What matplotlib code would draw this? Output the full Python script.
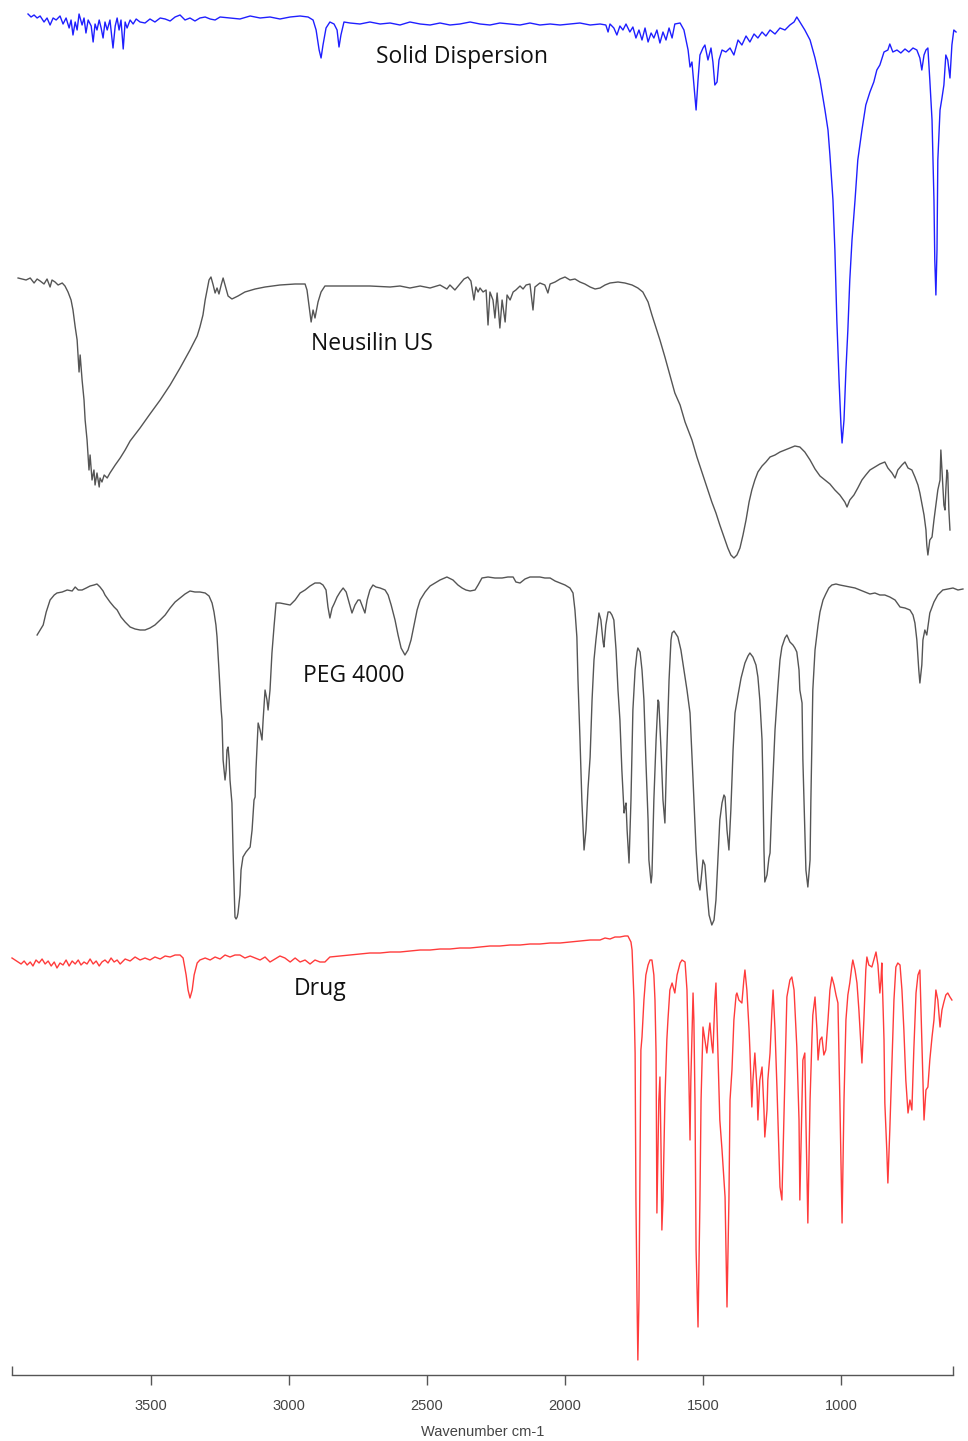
import numpy as np
import matplotlib
matplotlib.use('Agg')
import matplotlib.pyplot as plt

# FTIR spectra, wavenumber (cm-1) and stacked transmittance depth (a.u., larger = lower)
sd_wn = [3946, 3935, 3924, 3913, 3902, 3888, 3877, 3866, 3855, 3844, 3830, 3819, 3808, 3797, 3790,
         3783, 3775, 3768, 3761, 3750, 3743, 3736, 3728, 3717, 3710, 3703, 3696, 3688, 3681, 3674,
         3667, 3659, 3649, 3638, 3630, 3623, 3616, 3609, 3601, 3594, 3587, 3576, 3565, 3554, 3540,
         3522, 3504, 3486, 3467, 3449, 3431, 3413, 3395, 3377, 3359, 3341, 3323, 3304, 3286, 3268,
         3250, 3214, 3178, 3141, 3105, 3069, 3033, 2996, 2960, 2931, 2913, 2902, 2891, 2884, 2877,
         2866, 2852, 2837, 2826, 2819, 2812, 2801, 2779, 2743, 2707, 2670, 2634, 2598, 2562, 2525,
         2489, 2453, 2417, 2381, 2344, 2308, 2272, 2236, 2199, 2163, 2127, 2091, 2054, 2018, 1982,
         1946, 1909, 1873, 1852, 1844, 1837, 1823, 1812, 1801, 1790, 1779, 1765, 1754, 1743, 1732,
         1721, 1710, 1699, 1688, 1678, 1667, 1656, 1645, 1634, 1623, 1612, 1602, 1583, 1569, 1554,
         1547, 1540, 1533, 1525, 1518, 1511, 1500, 1493, 1482, 1471, 1464, 1457, 1449, 1442, 1431,
         1417, 1402, 1388, 1373, 1359, 1344, 1330, 1315, 1301, 1286, 1272, 1257, 1239, 1221, 1203,
         1185, 1170, 1160, 1149, 1131, 1112, 1094, 1076, 1058, 1047, 1040, 1029, 1022, 1015, 1007,
         1000, 996, 989, 982, 975, 968, 960, 949, 939, 924, 910, 895, 881, 870, 859,
         844, 830, 823, 812, 797, 783, 768, 754, 739, 725, 714, 707, 699, 692, 685,
         678, 670, 663, 660, 656, 652, 649, 641, 634, 627, 620, 613, 605, 598, 591,
         583]
sd_t = [14, 17, 15, 18, 16, 22, 18, 25, 18, 20, 16, 24, 18, 28, 20,
        35, 22, 30, 14, 25, 18, 33, 20, 26, 42, 24, 30, 20, 28, 38,
        22, 30, 20, 48, 26, 18, 30, 20, 49, 22, 28, 20, 24, 19, 22,
        23, 19, 22, 18, 19, 21, 17, 15, 20, 18, 21, 18, 17, 19, 20,
        17, 18, 19, 16, 18, 17, 19, 17, 16, 17, 20, 30, 50, 58, 45,
        28, 22, 24, 30, 47, 35, 22, 23, 24, 22, 24, 23, 25, 22, 24,
        25, 23, 25, 24, 22, 24, 25, 23, 24, 25, 23, 25, 24, 25, 24,
        23, 25, 24, 25, 32, 24, 28, 35, 26, 30, 24, 32, 27, 38, 30,
        40, 28, 42, 33, 38, 30, 43, 32, 40, 28, 38, 24, 23, 30, 50,
        67, 62, 85, 110, 80, 55, 48, 45, 60, 48, 62, 85, 82, 60, 50,
        52, 48, 55, 40, 45, 36, 42, 34, 38, 32, 36, 30, 34, 28, 30,
        25, 22, 17, 22, 30, 40, 58, 80, 110, 130, 155, 200, 250, 320, 380,
        425, 443, 420, 370, 330, 280, 240, 200, 160, 130, 105, 92, 82, 70, 65,
        52, 50, 44, 52, 50, 53, 49, 52, 48, 50, 58, 70, 55, 50, 48,
        80, 120, 200, 260, 295, 250, 160, 110, 98, 85, 55, 60, 78, 45, 30,
        32]

neu_wn = [3982, 3967, 3953, 3938, 3924, 3913, 3902, 3888, 3877, 3866, 3859, 3848, 3837, 3822, 3812,
          3801, 3790, 3783, 3775, 3768, 3761, 3757, 3750, 3743, 3739, 3732, 3725, 3721, 3714, 3707,
          3703, 3696, 3688, 3685, 3678, 3670, 3659, 3649, 3630, 3612, 3594, 3576, 3540, 3504, 3467,
          3431, 3395, 3359, 3333, 3323, 3312, 3304, 3297, 3290, 3283, 3275, 3268, 3261, 3254, 3246,
          3239, 3232, 3221, 3207, 3185, 3160, 3123, 3087, 3033, 2978, 2942, 2935, 2928, 2920, 2913,
          2906, 2895, 2884, 2870, 2833, 2779, 2707, 2634, 2598, 2562, 2525, 2489, 2453, 2428, 2417,
          2399, 2381, 2366, 2352, 2341, 2330, 2323, 2315, 2308, 2297, 2286, 2279, 2272, 2261, 2254,
          2246, 2236, 2228, 2217, 2210, 2199, 2188, 2178, 2163, 2152, 2141, 2127, 2116, 2109, 2091,
          2073, 2062, 2054, 2036, 2018, 2000, 1982, 1964, 1946, 1928, 1909, 1891, 1873, 1855, 1837,
          1808, 1783, 1757, 1736, 1718, 1699, 1685, 1670, 1656, 1638, 1620, 1602, 1583, 1565, 1554,
          1540, 1522, 1504, 1482, 1468, 1453, 1439, 1424, 1410, 1399, 1388, 1377, 1366, 1355, 1344,
          1333, 1323, 1312, 1301, 1286, 1272, 1257, 1239, 1221, 1203, 1185, 1167, 1149, 1131, 1112,
          1094, 1076, 1058, 1040, 1022, 1004, 986, 978, 968, 953, 939, 924, 910, 895, 877,
          859, 841, 830, 815, 804, 794, 779, 768, 757, 743, 732, 721, 714, 707, 699,
          692, 689, 685, 678, 670, 663, 656, 649, 641, 638, 634, 627, 623, 620, 616,
          613, 609, 605]
neu_t = [278, 279, 280, 278, 283, 279, 281, 284, 279, 287, 280, 282, 285, 283, 286,
         292, 300, 310, 327, 340, 372, 355, 380, 400, 420, 440, 470, 455, 480, 470,
         485, 473, 487, 478, 482, 475, 478, 473, 465, 458, 450, 441, 428, 414, 400,
         385, 368, 350, 336, 327, 315, 300, 290, 280, 277, 285, 293, 288, 294, 285,
         278, 285, 296, 299, 296, 292, 289, 287, 285, 284, 284, 290, 305, 322, 310,
         318, 302, 292, 286, 286, 286, 286, 287, 286, 288, 286, 288, 285, 289, 285,
         290, 284, 279, 277, 281, 300, 287, 292, 288, 292, 290, 325, 292, 300, 318,
         293, 328, 300, 322, 295, 300, 292, 290, 286, 289, 285, 284, 310, 287, 283,
         285, 293, 284, 282, 279, 277, 280, 279, 282, 284, 287, 289, 288, 285, 283,
         282, 283, 285, 288, 292, 302, 315, 328, 340, 357, 375, 393, 405, 422, 430,
         440, 457, 472, 490, 502, 513, 525, 537, 548, 555, 558, 555, 548, 535, 520,
         502, 490, 480, 472, 466, 462, 457, 455, 452, 450, 448, 446, 447, 452, 460,
         469, 476, 480, 484, 490, 495, 502, 507, 500, 495, 488, 480, 475, 470, 467,
         464, 462, 468, 473, 478, 470, 465, 462, 468, 470, 477, 485, 493, 503, 515,
         530, 545, 555, 540, 537, 520, 505, 490, 480, 450, 470, 505, 510, 490, 470,
         473, 510, 530]

peg_wn = [3913, 3902, 3891, 3880, 3866, 3851, 3841, 3822, 3804, 3786, 3775, 3764, 3750, 3735, 3721,
          3707, 3696, 3685, 3674, 3667, 3649, 3634, 3623, 3609, 3594, 3576, 3558, 3540, 3522, 3504,
          3486, 3467, 3449, 3431, 3413, 3395, 3377, 3359, 3341, 3323, 3304, 3290, 3279, 3272, 3265,
          3261, 3254, 3246, 3243, 3239, 3232, 3228, 3225, 3221, 3217, 3214, 3207, 3203, 3199, 3196,
          3192, 3188, 3185, 3178, 3174, 3167, 3156, 3141, 3134, 3127, 3123, 3120, 3112, 3105, 3098,
          3094, 3087, 3080, 3076, 3069, 3062, 3054, 3047, 3033, 3015, 2996, 2978, 2960, 2942, 2924,
          2906, 2888, 2877, 2866, 2859, 2852, 2844, 2837, 2826, 2815, 2804, 2793, 2783, 2772, 2761,
          2750, 2743, 2736, 2725, 2717, 2707, 2696, 2685, 2670, 2652, 2641, 2630, 2616, 2605, 2594,
          2580, 2569, 2558, 2547, 2536, 2525, 2507, 2489, 2471, 2453, 2428, 2406, 2388, 2373, 2359,
          2344, 2326, 2315, 2301, 2279, 2254, 2228, 2207, 2188, 2178, 2163, 2145, 2127, 2109, 2091,
          2073, 2054, 2036, 2018, 2000, 1982, 1971, 1964, 1957, 1953, 1946, 1939, 1931, 1924, 1917,
          1909, 1902, 1895, 1888, 1877, 1870, 1862, 1859, 1852, 1844, 1837, 1830, 1823, 1815, 1808,
          1801, 1794, 1786, 1783, 1779, 1775, 1768, 1761, 1754, 1746, 1739, 1736, 1728, 1721, 1714,
          1707, 1699, 1696, 1688, 1685, 1678, 1670, 1663, 1660, 1652, 1645, 1638, 1631, 1623, 1616,
          1612, 1605, 1598, 1591, 1580, 1569, 1558, 1547, 1536, 1525, 1518, 1511, 1507, 1500, 1493,
          1486, 1478, 1468, 1460, 1453, 1446, 1439, 1431, 1424, 1420, 1413, 1406, 1399, 1391, 1384,
          1373, 1362, 1348, 1337, 1330, 1319, 1308, 1301, 1294, 1286, 1283, 1279, 1276, 1268, 1261,
          1257, 1250, 1239, 1228, 1221, 1214, 1203, 1196, 1185, 1174, 1167, 1160, 1152, 1149, 1141,
          1138, 1131, 1127, 1120, 1112, 1109, 1105, 1102, 1094, 1083, 1076, 1065, 1055, 1044, 1033,
          1018, 1004, 986, 968, 949, 931, 913, 895, 877, 859, 841, 823, 804, 786, 768,
          750, 739, 732, 725, 718, 714, 707, 703, 696, 689, 678, 663, 649, 631, 613,
          594, 576, 558]
peg_t = [635, 630, 625, 612, 600, 595, 593, 592, 590, 591, 587, 590, 590, 588, 586,
         585, 584, 587, 591, 595, 602, 607, 610, 617, 622, 627, 629, 630, 630, 628,
         625, 620, 615, 608, 602, 598, 594, 591, 592, 592, 593, 596, 603, 612, 625,
         637, 670, 710, 720, 760, 780, 770, 750, 747, 760, 780, 803, 850, 890, 917,
         919, 917, 913, 895, 870, 857, 852, 847, 830, 800, 797, 770, 723, 730, 740,
         720, 690, 700, 710, 690, 653, 625, 603, 603, 604, 605, 600, 593, 590, 586,
         583, 583, 585, 590, 607, 618, 608, 604, 597, 592, 588, 592, 602, 613, 605,
         600, 600, 605, 613, 600, 590, 585, 587, 588, 590, 595, 605, 620, 635, 648,
         655, 650, 640, 625, 610, 600, 592, 586, 583, 580, 577, 580, 585, 588, 590,
         591, 590, 585, 578, 577, 578, 578, 577, 577, 582, 583, 579, 577, 577, 577,
         578, 578, 581, 583, 585, 588, 593, 610, 637, 680, 737, 800, 850, 830, 790,
         757, 700, 660, 640, 613, 620, 642, 647, 625, 612, 612, 615, 620, 650, 690,
         720, 770, 813, 808, 803, 830, 863, 800, 710, 670, 652, 648, 652, 670, 700,
         760, 820, 860, 883, 875, 800, 740, 700, 702, 750, 800, 823, 750, 680, 640,
         633, 631, 634, 637, 650, 670, 690, 713, 780, 850, 880, 890, 880, 860, 865,
         890, 915, 925, 920, 900, 860, 820, 803, 795, 797, 830, 850, 810, 750, 713,
         695, 678, 663, 656, 653, 657, 665, 677, 700, 740, 780, 850, 882, 875, 858,
         853, 800, 730, 685, 660, 647, 638, 635, 642, 645, 648, 652, 670, 690, 703,
         760, 830, 870, 887, 860, 800, 740, 690, 650, 625, 612, 600, 594, 588, 585,
         584, 585, 586, 587, 588, 590, 592, 594, 593, 595, 595, 597, 600, 607, 608,
         610, 615, 623, 640, 670, 683, 665, 640, 630, 635, 613, 602, 595, 590, 589,
         588, 590, 589]

drug_wn = [4004, 3993, 3982, 3971, 3960, 3949, 3938, 3928, 3917, 3906, 3895, 3884, 3873, 3862, 3851,
           3841, 3830, 3819, 3808, 3797, 3786, 3775, 3764, 3754, 3743, 3732, 3721, 3710, 3699, 3688,
           3678, 3667, 3656, 3645, 3634, 3623, 3612, 3594, 3576, 3558, 3540, 3522, 3504, 3486, 3467,
           3449, 3431, 3413, 3395, 3384, 3373, 3366, 3359, 3351, 3344, 3333, 3323, 3304, 3286, 3268,
           3250, 3232, 3214, 3196, 3178, 3160, 3141, 3123, 3105, 3087, 3069, 3051, 3033, 3015, 2996,
           2978, 2960, 2942, 2924, 2906, 2888, 2870, 2852, 2815, 2779, 2743, 2707, 2670, 2634, 2598,
           2562, 2525, 2489, 2453, 2417, 2381, 2344, 2308, 2272, 2236, 2199, 2163, 2127, 2091, 2054,
           2018, 1982, 1946, 1909, 1873, 1855, 1837, 1819, 1801, 1783, 1772, 1761, 1757, 1750, 1746,
           1743, 1739, 1736, 1732, 1728, 1725, 1721, 1714, 1707, 1699, 1692, 1685, 1678, 1674, 1670,
           1667, 1663, 1660, 1656, 1652, 1649, 1645, 1638, 1631, 1627, 1620, 1612, 1605, 1602, 1594,
           1583, 1576, 1565, 1558, 1551, 1547, 1544, 1536, 1533, 1529, 1525, 1518, 1511, 1507, 1500,
           1493, 1486, 1478, 1475, 1468, 1464, 1457, 1453, 1446, 1439, 1431, 1424, 1420, 1413, 1406,
           1402, 1395, 1388, 1380, 1377, 1370, 1359, 1352, 1348, 1341, 1333, 1330, 1323, 1319, 1312,
           1304, 1301, 1294, 1286, 1279, 1276, 1268, 1265, 1257, 1250, 1246, 1239, 1232, 1225, 1221,
           1214, 1207, 1199, 1196, 1185, 1178, 1170, 1163, 1160, 1152, 1149, 1141, 1138, 1131, 1127,
           1120, 1112, 1105, 1102, 1094, 1087, 1083, 1076, 1069, 1062, 1055, 1047, 1040, 1033, 1025,
           1018, 1011, 1004, 996, 989, 982, 975, 968, 960, 957, 949, 942, 935, 924, 917,
           910, 906, 899, 888, 881, 873, 866, 859, 855, 852, 844, 841, 834, 830, 823,
           815, 808, 801, 794, 786, 779, 772, 765, 757, 750, 743, 736, 728, 721, 714,
           707, 699, 692, 685, 678, 670, 663, 656, 649, 641, 634, 627, 620, 613, 605,
           598]
drug_t = [958, 960, 962, 964, 961, 965, 962, 966, 960, 963, 959, 964, 961, 966, 962,
          968, 963, 965, 960, 966, 961, 964, 960, 965, 962, 964, 959, 964, 961, 966,
          962, 960, 963, 958, 962, 960, 964, 959, 961, 957, 960, 958, 960, 957, 959,
          956, 957, 955, 955, 958, 975, 990, 998, 990, 975, 963, 960, 958, 960, 957,
          959, 955, 957, 955, 955, 958, 956, 958, 960, 957, 962, 959, 956, 958, 962,
          958, 962, 960, 964, 960, 962, 962, 957, 956, 955, 954, 953, 953, 952, 952,
          951, 950, 950, 949, 949, 948, 948, 947, 946, 946, 945, 945, 944, 944, 943,
          943, 942, 941, 940, 940, 938, 939, 937, 937, 936, 936, 942, 950, 1000, 1053,
          1200, 1300, 1360, 1300, 1150, 1050, 1037, 1000, 975, 965, 960, 960, 975, 1000, 1053,
          1213, 1150, 1100, 1077, 1150, 1230, 1200, 1100, 1040, 1020, 990, 983, 990, 993, 975,
          963, 960, 962, 990, 1080, 1140, 1080, 993, 1020, 1100, 1250, 1327, 1200, 1100, 1027,
          1040, 1053, 1030, 1023, 1045, 1053, 1000, 983, 1050, 1120, 1150, 1180, 1197, 1307, 1200,
          1100, 1070, 1020, 995, 993, 1000, 1003, 980, 970, 990, 1030, 1050, 1107, 1080, 1053,
          1090, 1120, 1080, 1067, 1110, 1137, 1110, 1080, 1053, 1010, 990, 1030, 1087, 1150, 1187,
          1200, 1120, 1030, 997, 980, 977, 990, 1030, 1047, 1120, 1200, 1100, 1060, 1053, 1120,
          1223, 1100, 1037, 1015, 997, 1030, 1060, 1040, 1037, 1055, 1050, 1020, 990, 977, 985,
          995, 1003, 1100, 1223, 1100, 1020, 995, 983, 965, 960, 970, 983, 1010, 1063, 1020,
          970, 957, 965, 967, 960, 952, 965, 993, 980, 963, 1040, 1103, 1150, 1183, 1130,
          1060, 1000, 967, 963, 965, 990, 1030, 1080, 1113, 1100, 1110, 1050, 993, 975, 970,
          1040, 1120, 1090, 1087, 1060, 1037, 1020, 990, 1000, 1027, 1010, 1002, 995, 993, 997,
          1000]

names = ['Solid Dispersion', 'Neusilin US', 'PEG 4000', 'Drug']
colors = ['#1f1fff', '#555555', '#555555', '#ff3b3b']
label_pos = [(2373, 57), (2699, 344), (2765, 676), (2888, 989)]
xticks = [3500, 3000, 2500, 2000, 1500, 1000]

W, H = 968, 1441
fig = plt.figure(figsize=(W / 100, H / 100), dpi=100)
ax = fig.add_axes([12 / W, (H - 1375) / H, (953 - 12) / W, 1375 / H])

series = [(sd_wn, sd_t), (neu_wn, neu_t), (peg_wn, peg_t), (drug_wn, drug_t)]
for (wn, t), c in zip(series, colors):
    ax.plot(wn, t, color=c, lw=1.0, clip_on=False)

for name, (x, y) in zip(names, label_pos):
    ax.text(x, y, name, fontsize=16.5, family=['Open Sans', 'DejaVu Sans'],
            ha='center', va='center', color='#111111')

ax.set_xlim(4004, 594)
ax.set_ylim(1375, 0)

for s in ['top', 'left', 'right']:
    ax.spines[s].set_visible(False)
ax.spines['bottom'].set_color('#555555')
ax.spines['bottom'].set_linewidth(1.0)
ax.set_yticks([])
ax.set_xticks(xticks)
ax.set_xticklabels([str(v) for v in xticks], family=['Liberation Sans Narrow', 'Liberation Sans'],
                   fontsize=10.5, color='#444444')
ax.tick_params(axis='x', direction='out', length=7, width=1, color='#555555', pad=10)
# small end caps of the axis line
ax.vlines([4004, 594], 1366, 1375, color='#555555', lw=1, clip_on=False)
ax.set_xlabel('Wavenumber cm-1', family=['Liberation Sans Narrow', 'Liberation Sans'],
              fontsize=10.5, color='#444444', labelpad=9)

fig.savefig('out.png', dpi=100)
